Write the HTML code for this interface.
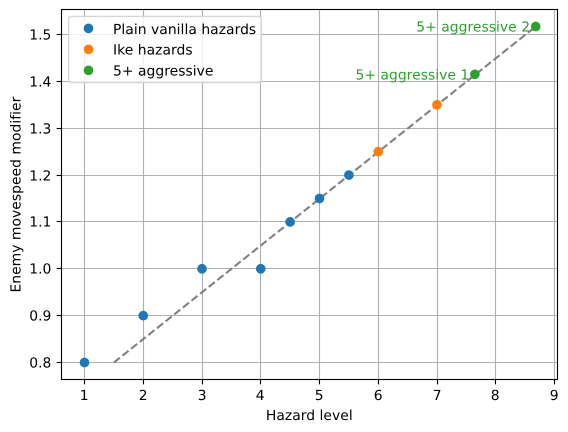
<!DOCTYPE html>
<html>
<head>
<meta charset="utf-8">
<title>Enemy movespeed modifier vs hazard level</title>
<style>
html,body{margin:0;padding:0;background:#fff;width:568px;height:432px;overflow:hidden}
svg{display:block}
text{font-family:"DejaVu Sans","Liberation Sans",sans-serif;font-size:13.89px;fill:#000;text-rendering:geometricPrecision;letter-spacing:0.04px}
</style>
</head>
<body>
<svg id="chart" xmlns="http://www.w3.org/2000/svg" width="568" height="432" viewBox="0 0 568 432">
  <rect x="0" y="0" width="568" height="432" fill="#fff"/>
  <g id="grid"></g>
  <g id="series"></g>
  <g id="annotations"></g>
  <g id="axes"></g>
  <text x="309.3" y="420" text-anchor="middle">Hazard level</text>
  <text x="0" y="0" text-anchor="middle" transform="translate(20.5 194.6) rotate(-90)">Enemy movespeed modifier</text>
  <g id="legend">
    <rect x="68.6" y="16.4" width="192.8" height="66.2" rx="2.8" ry="2.8" fill="#fff" fill-opacity="0.8" stroke="#cccccc" stroke-opacity="0.8" stroke-width="1.39"/>
    <circle cx="88.5" cy="28.4" r="4.86" fill="#1f77b4"/>
    <text x="113" y="34">Plain vanilla hazards</text>
    <circle cx="88.5" cy="49.4" r="4.86" fill="#ff7f0e"/>
    <text x="113" y="54.5">Ike hazards</text>
    <circle cx="88.5" cy="70.3" r="4.86" fill="#2ca02c"/>
    <text x="113" y="75.4">5+ aggressive</text>
  </g>
</svg>
<script>
const xTicks = [1, 2, 3, 4, 5, 6, 7, 8, 9];
const yTicks = [0.8, 0.9, 1.0, 1.1, 1.2, 1.3, 1.4, 1.5];
const plainX = [1, 2, 3, 4, 4.5, 5, 5.5];
const plainY = [0.8, 0.9, 1.0, 1.0, 1.1, 1.15, 1.2];
const ikeX = [6, 7];
const ikeY = [1.25, 1.35];
const aggressiveX = [7.645, 8.68];
const aggressiveY = [1.415, 1.517];
const aggressiveLabels = ['5+ aggressive 1', '5+ aggressive 2'];
const trendX = [1.5, 8.68];
const trendY = [0.8, 1.517];

const NS = 'http://www.w3.org/2000/svg';
const plot = { left: 61.5, right: 557.5, top: 9.5, bottom: 379.5 };
const sx = v => 84.5 + (v - 1) * 58.75;
const sy = v => 362.5 - (v - 0.8) * 468.6;
const snap = v => Math.floor(v) + 0.5;

function make(tag, attrs, parent) {
  const el = document.createElementNS(NS, tag);
  for (const k in attrs) el.setAttribute(k, attrs[k]);
  parent.appendChild(el);
  return el;
}

const gridG = document.getElementById('grid');
const seriesG = document.getElementById('series');
const annG = document.getElementById('annotations');
const axesG = document.getElementById('axes');

xTicks.forEach(t => {
  const x = snap(sx(t));
  const g = make('line', { x1: x, x2: x, y1: plot.top, y2: plot.bottom, stroke: '#b0b0b0', 'stroke-width': 1.11 }, gridG);
  
  
  const m = make('line', { x1: x, x2: x, y1: plot.bottom, y2: plot.bottom + 4.86, stroke: '#000', 'stroke-width': 1.11 }, axesG);
  
  
  const l = make('text', { x: x - 0.3, y: 400, 'text-anchor': 'middle' }, axesG);
  
  
  l.textContent = String(t);
});

yTicks.forEach(t => {
  const y = snap(sy(t));
  const g = make('line', { x1: plot.left, x2: plot.right, y1: y, y2: y, stroke: '#b0b0b0', 'stroke-width': 1.11 }, gridG);
  
  
  const m = make('line', { x1: plot.left - 4.86, x2: plot.left, y1: y, y2: y, stroke: '#000', 'stroke-width': 1.11 }, axesG);
  
  
  const l = make('text', { x: 51.4, y: y + 5.0, 'text-anchor': 'end' }, axesG);
  
  
  l.textContent = t.toFixed(1);
});

const trend = make('polyline', {
  points: trendX.map((v, i) => sx(v) + ',' + sy(trendY[i])).join(' '),
  fill: 'none', stroke: '#808080', 'stroke-width': 2.08, 'stroke-dasharray': '7.7 3.33'
}, seriesG);



function drawPoints(xs, ys, color, name) {
  xs.forEach((v, i) => {
    const c = make('circle', { cx: sx(v), cy: sy(ys[i]), r: 4.86, fill: color }, seriesG);
    
    
  });
}
drawPoints(plainX, plainY, '#1f77b4', 'plain-vanilla-point');
drawPoints(ikeX, ikeY, '#ff7f0e', 'ike-point');
drawPoints(aggressiveX, aggressiveY, '#2ca02c', 'aggressive-point');

aggressiveLabels.forEach((label, i) => {
  const t = make('text', {
    x: sx(aggressiveX[i]) - 5.6,
    y: sy(aggressiveY[i]) + 5.2,
    'text-anchor': 'end',
    style: 'fill:#2ca02c'
  }, annG);
  
  
  t.textContent = label;
});

const frame = make('rect', {
  x: plot.left, y: plot.top,
  width: plot.right - plot.left, height: plot.bottom - plot.top,
  fill: 'none', stroke: '#000', 'stroke-width': 1.11
}, axesG);


</script>
</body>
</html>
